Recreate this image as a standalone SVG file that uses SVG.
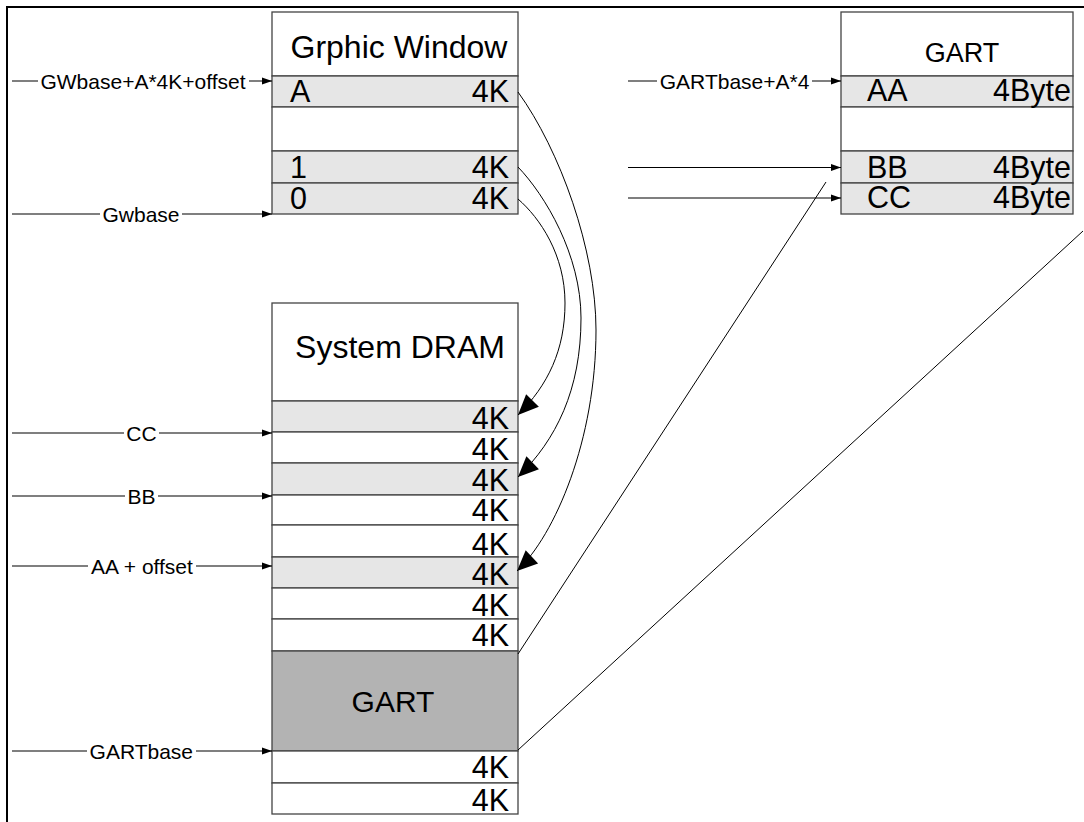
<svg xmlns="http://www.w3.org/2000/svg" width="1084" height="822" viewBox="0 0 1084 822">
<style>
text{font-family:"Liberation Sans",Arial,sans-serif;fill:#000}
.big{font-size:30.5px}
.ttl{font-size:32px;text-anchor:middle}
.lbl{font-size:21px;text-anchor:middle}
.end{text-anchor:end}
.w{fill:#fff;stroke:#444;stroke-width:1.3}
.g{fill:#e6e6e6;stroke:#444;stroke-width:1.3}
.d{fill:#b3b3b3;stroke:#444;stroke-width:1.3}
.ln{fill:none;stroke:#000;stroke-width:1.2}
.cv{fill:none;stroke:#000;stroke-width:1}
</style>
<defs>
<marker id="sa" markerUnits="userSpaceOnUse" markerWidth="10" markerHeight="7" refX="10" refY="3.5" orient="auto" overflow="visible">
<path d="M0,0 L10,3.5 L0,7 z" fill="#000"/>
</marker>
<marker id="ba" markerUnits="userSpaceOnUse" markerWidth="21" markerHeight="18" refX="20.5" refY="9" orient="auto" overflow="visible">
<path d="M0,0 L20.5,9 L0,18 z" fill="#000"/>
</marker>
</defs>
<rect width="1084" height="822" fill="#fff"/>
<g id="frame">
<path d="M7,822 V7 H1084" fill="none" stroke="#000" stroke-width="2"/>
</g>
<g id="graphic-window">
<rect class="w" x="272" y="12" width="246" height="64"/>
<rect class="g" x="272" y="76" width="246" height="31"/>
<rect class="w" x="272" y="107" width="246" height="44"/>
<rect class="g" x="272" y="151" width="246" height="32"/>
<rect class="g" x="272" y="183" width="246" height="31"/>
<text class="ttl" x="399" y="58">Grphic Window</text>
<text class="big" x="290" y="102">A</text>
<text class="big end" x="509" y="102">4K</text>
<text class="big" x="290" y="178">1</text>
<text class="big end" x="509" y="178">4K</text>
<text class="big" x="290" y="209">0</text>
<text class="big end" x="509" y="209">4K</text>
</g>
<g id="gart-table">
<rect class="w" x="841" y="12" width="232" height="64"/>
<rect class="g" x="841" y="76" width="232" height="31"/>
<rect class="w" x="841" y="107" width="232" height="44"/>
<rect class="g" x="841" y="151" width="232" height="32"/>
<rect class="g" x="841" y="183" width="232" height="31"/>
<text class="ttl" style="font-size:27px" x="962" y="62">GART</text>
<text class="big" x="867" y="101">AA</text>
<text class="big end" x="1071" y="101">4Byte</text>
<text class="big" x="867" y="178">BB</text>
<text class="big end" x="1071" y="178">4Byte</text>
<text class="big" x="867" y="208">CC</text>
<text class="big end" x="1071" y="208">4Byte</text>
</g>
<g id="system-dram">
<rect class="w" x="272" y="303" width="246" height="98"/>
<rect class="g" x="272" y="401" width="246" height="31"/>
<rect class="w" x="272" y="432" width="246" height="31"/>
<rect class="g" x="272" y="463" width="246" height="32"/>
<rect class="w" x="272" y="495" width="246" height="30"/>
<rect class="w" x="272" y="525" width="246" height="32"/>
<rect class="g" x="272" y="557" width="246" height="31"/>
<rect class="w" x="272" y="588" width="246" height="31"/>
<rect class="w" x="272" y="619" width="246" height="32"/>
<rect class="d" x="272" y="651" width="246" height="100"/>
<rect class="w" x="272" y="751" width="246" height="32"/>
<rect class="w" x="272" y="783" width="246" height="31"/>
<text class="ttl" x="400" y="358">System DRAM</text>
<text class="big end" x="509" y="429">4K</text>
<text class="big end" x="509" y="460">4K</text>
<text class="big end" x="509" y="491">4K</text>
<text class="big end" x="509" y="521">4K</text>
<text class="big end" x="509" y="555">4K</text>
<text class="big end" x="509" y="585">4K</text>
<text class="big end" x="509" y="616">4K</text>
<text class="big end" x="509" y="646">4K</text>
<text class="ttl" style="font-size:30px" x="393" y="712">GART</text>
<text class="big end" x="509" y="778">4K</text>
<text class="big end" x="509" y="811">4K</text>
</g>
<g id="connectors">
<path class="ln" d="M12,81 H38 M249,81 H272" marker-end="url(#sa)"/>
<text class="lbl" x="143" y="88.5">GWbase+A*4K+offset</text>
<path class="ln" d="M12,214 H100 M182,214 H272" marker-end="url(#sa)"/>
<text class="lbl" x="141" y="221.5">Gwbase</text>
<path class="ln" d="M12,433 H124 M159,433 H272" marker-end="url(#sa)"/>
<text class="lbl" x="141.5" y="440.5">CC</text>
<path class="ln" d="M12,496 H125 M158,496 H272" marker-end="url(#sa)"/>
<text class="lbl" x="141.5" y="503.5">BB</text>
<path class="ln" d="M12,566 H88 M196,566 H272" marker-end="url(#sa)"/>
<text class="lbl" x="142" y="573.5">AA + offset</text>
<path class="ln" d="M12,751 H87 M196,751 H272" marker-end="url(#sa)"/>
<text class="lbl" x="141.3" y="758.5">GARTbase</text>
<path class="ln" d="M628,81 H657 M812,81 H841" marker-end="url(#sa)"/>
<text class="lbl" x="734.6" y="88.5">GARTbase+A*4</text>
<path class="ln" d="M628,167.5 H841" marker-end="url(#sa)"/>
<path class="ln" d="M628,198 H841" marker-end="url(#sa)"/>
<path class="cv" d="M518,199 C540,218 565,255 565,303 C565,350 548,385 518,415" marker-end="url(#ba)"/>
<path class="cv" d="M518,167 C545,195 581,255 581,318 C581,390 556,440 518,477" marker-end="url(#ba)"/>
<path class="cv" d="M518,92 C560,150 596,250 596,330 C596,440 555,535 517,571" marker-end="url(#ba)"/>
<path class="cv" d="M518,654 L826,182"/>
<path class="cv" d="M518,750 L1083,231"/>
</g>
</svg>
